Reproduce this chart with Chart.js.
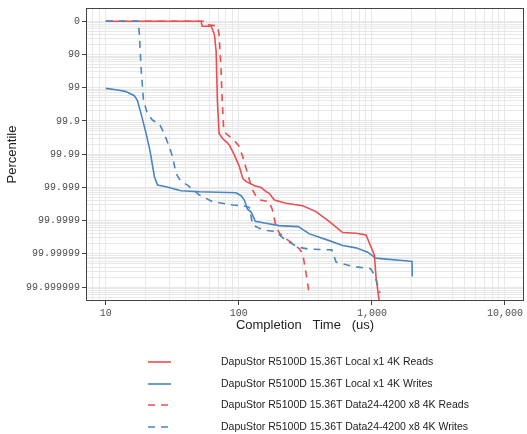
<!DOCTYPE html>
<html>
<head>
<meta charset="utf-8">
<script src="https://cdn.jsdelivr.net/npm/chart.js@4.4.1/dist/chart.umd.min.js"></script>
<style>
  body { margin: 0; background: #fff; }
  #wrap { position: relative; width: 527px; height: 434px; }
  #legend { position: absolute; left: 0; top: 0; font-family: "Liberation Sans", Arial, sans-serif; font-size: 10.5px; color: #222; }
  .row { position: absolute; white-space: nowrap; }
  .row svg { position: absolute; left: 148px; top: -2px; }
  .row span { position: absolute; left: 221px; top: -7px; }
</style>
</head>
<body>
<div id="wrap">
  <canvas id="c" width="527" height="434"></canvas>
  <div id="legend"></div>
</div>
<script>
// series names
var names = [
  'DapuStor R5100D 15.36T Local x1 4K Reads',
  'DapuStor R5100D 15.36T Local x1 4K Writes',
  'DapuStor R5100D 15.36T Data24-4200 x8 4K Reads',
  'DapuStor R5100D 15.36T Data24-4200 x8 4K Writes'
];

// completion time (us) and percentile expressed as "number of nines"
var latLocalReads = [10, 52, 53, 62, 65.5, 67.5, 69, 71, 75.5, 80, 85, 92.6, 101, 107, 113, 131, 147, 160, 169, 185, 226, 302, 380, 479, 603, 759, 903, 1043, 1073, 1137];
var nineLocalReads = [0, 0, 0.15, 0.15, 0.4, 0.9, 2.4, 3.38, 3.53, 3.62, 3.73, 4.03, 4.38, 4.73, 4.82, 4.95, 5.0, 5.13, 5.18, 5.38, 5.48, 5.55, 5.73, 6.03, 6.36, 6.38, 6.43, 7.03, 7.68, 8.45];

var latLocalWrites = [10, 12, 14, 16.4, 17.3, 18.4, 20.1, 21.5, 23.2, 24.5, 28.4, 36.8, 50.5, 95, 104, 110, 116, 124, 133, 160, 200, 280, 339, 460, 603, 760, 930, 1070, 1280, 1700, 2000, 2010];
var nineLocalWrites = [2.02, 2.06, 2.11, 2.24, 2.39, 2.78, 3.38, 3.9, 4.68, 4.93, 4.98, 5.1, 5.13, 5.16, 5.25, 5.38, 5.65, 5.75, 6.02, 6.08, 6.15, 6.18, 6.4, 6.58, 6.75, 6.82, 6.95, 7.13, 7.16, 7.2, 7.23, 7.68];

var latDataReads = [10, 56, 58, 69, 71, 73.4, 75, 77, 80, 86, 92, 100, 107, 113, 120, 127, 135, 143, 169, 179, 190, 202, 226, 246, 285, 302, 320, 339];
var nineDataReads = [0, 0, 0.1, 0.14, 0.38, 1.4, 2.4, 3.28, 3.38, 3.48, 3.58, 3.75, 4.08, 4.4, 4.78, 5.08, 5.28, 5.38, 5.43, 5.68, 6.18, 6.38, 6.55, 6.65, 6.85, 7.0, 7.58, 8.25];

var latDataWrites = [10, 17.5, 17.9, 18.4, 19.2, 20.6, 22.5, 25.2, 27.5, 30, 31.8, 33.7, 36.8, 41.2, 50.5, 63.5, 90, 107, 120, 127, 151, 190, 226, 280, 339, 500, 538, 717, 980, 1050, 1150];
var nineDataWrites = [0, 0, 0.39, 1.39, 2.39, 2.79, 2.98, 3.08, 3.38, 3.78, 4.08, 4.58, 4.83, 4.93, 5.23, 5.43, 5.53, 5.55, 5.6, 6.13, 6.28, 6.33, 6.6, 6.8, 6.86, 6.88, 7.25, 7.38, 7.45, 7.65, 8.18];

// axis ticks
var xTicks = [10, 100, 1000, 10000];
var xTickLabels = ['10', '100', '1,000', '10,000'];
var yTicks = [0, 1, 2, 3, 4, 5, 6, 7, 8];
var yTickLabels = ['0', '90', '99', '99.9', '99.99', '99.999', '99.9999', '99.99999', '99.999999'];

var red = '#ec4d4f';
var blue = '#4a86c1';

function pts(xs, ys) {
  return xs.map(function (x, i) { return { x: x, y: ys[i] }; });
}

// lower order = drawn on top
var series = [
  { label: names[0], data: pts(latLocalReads, nineLocalReads), color: red, dash: [], order: 1 },
  { label: names[1], data: pts(latLocalWrites, nineLocalWrites), color: blue, dash: [], order: 2 },
  { label: names[2], data: pts(latDataReads, nineDataReads), color: red, dash: [7, 6], order: 3 },
  { label: names[3], data: pts(latDataWrites, nineDataWrites), color: blue, dash: [7, 6], order: 0 }
];

var xMin = 7.1, xMax = 13900, yMin = -0.4, yMax = 8.42;

// minor grid: log steps on x, nines steps on y
function xGrid() {
  var out = [];
  for (var d = 1; d <= 10000; d *= 10) {
    for (var k = 1; k <= 9; k++) {
      var v = k * d;
      if (v >= xMin && v <= xMax) out.push({ value: v });
    }
  }
  return out;
}
function yGrid() {
  var out = [];
  for (var n = 0; n <= 8; n++) {
    out.push({ value: n });
    for (var k = 9; k >= 2; k--) {
      var v = n + 1 - Math.log10(k);
      if (v <= yMax) out.push({ value: v });
    }
  }
  return out;
}

var boxPlugin = {
  id: 'box',
  afterDraw: function (chart) {
    var a = chart.chartArea, ctx = chart.ctx;
    ctx.save();
    ctx.strokeStyle = '#444';
    ctx.lineWidth = 1;
    ctx.strokeRect(a.left + 0.5, a.top + 0.5, a.right - a.left - 1, a.bottom - a.top - 1);
    ctx.restore();
  }
};

var chart = new Chart(document.getElementById('c'), {
  type: 'line',
  data: {
    datasets: series.map(function (s) {
      return {
        label: s.label,
        data: s.data,
        order: s.order,
        borderColor: s.color,
        backgroundColor: s.color,
        borderDash: s.dash,
        borderWidth: 1.6,
        pointRadius: 0,
        tension: 0,
        fill: false
      };
    })
  },
  options: {
    responsive: false,
    animation: false,
    devicePixelRatio: 1,
    layout: { padding: { left: 0, right: 3, top: 7, bottom: 93 } },
    plugins: { legend: { display: false }, tooltip: { enabled: false } },
    scales: {
      x: {
        type: 'logarithmic',
        min: xMin,
        max: xMax,
        afterBuildTicks: function (scale) { scale.ticks = xGrid(); },
        afterFit: function (scale) { scale.height = 40; },
        ticks: {
          autoSkip: false,
          maxRotation: 0,
          padding: 2,
          color: '#4d4d4d',
          font: { family: 'Liberation Mono', size: 10 },
          callback: function (v) {
            var i = xTicks.indexOf(v);
            return i >= 0 ? xTickLabels[i] : '';
          }
        },
        grid: {
          color: '#e8e8e8',
          tickLength: 4,
          tickColor: function (c) {
            return c.tick && xTicks.indexOf(c.tick.value) >= 0 ? '#444' : 'rgba(0,0,0,0)';
          }
        },
        border: { display: false },
        title: {
          display: true,
          text: 'Completion   Time   (us)',
          color: '#222',
          font: { family: 'Liberation Sans', size: 13 },
          padding: { top: 0, bottom: 8 }
        }
      },
      y: {
        type: 'linear',
        reverse: true,
        min: yMin,
        max: yMax,
        afterBuildTicks: function (scale) { scale.ticks = yGrid(); },
        afterFit: function (scale) { scale.width = 86; },
        ticks: {
          autoSkip: false,
          padding: 2,
          color: '#4d4d4d',
          font: { family: 'Liberation Mono', size: 10 },
          callback: function (v) {
            var i = yTicks.indexOf(v);
            return i >= 0 ? yTickLabels[i] : '';
          }
        },
        grid: {
          color: '#e8e8e8',
          tickLength: 4,
          tickColor: function (c) {
            return c.tick && yTicks.indexOf(c.tick.value) >= 0 ? '#444' : 'rgba(0,0,0,0)';
          }
        },
        border: { display: false },
        title: {
          display: true,
          text: 'Percentile',
          color: '#222',
          font: { family: 'Liberation Sans', size: 13 },
          padding: { top: 5, bottom: 0 }
        }
      }
    }
  },
  plugins: [boxPlugin]
});

// legend rows below the plot
var rowY = [362, 384, 405, 427];
var legend = document.getElementById('legend');
series.forEach(function (s, i) {
  var row = document.createElement('div');
  row.className = 'row';
  row.style.top = rowY[i] + 'px';
  row.innerHTML = '<svg width="24" height="4"><line x1="0" y1="2" x2="23" y2="2" stroke="' + s.color +
    '" stroke-width="1.6" stroke-dasharray="' + (s.dash.length ? s.dash.join(',') : 'none') + '"/></svg>' +
    '<span>' + s.label + '</span>';
  legend.appendChild(row);
});
</script>
</body>
</html>
